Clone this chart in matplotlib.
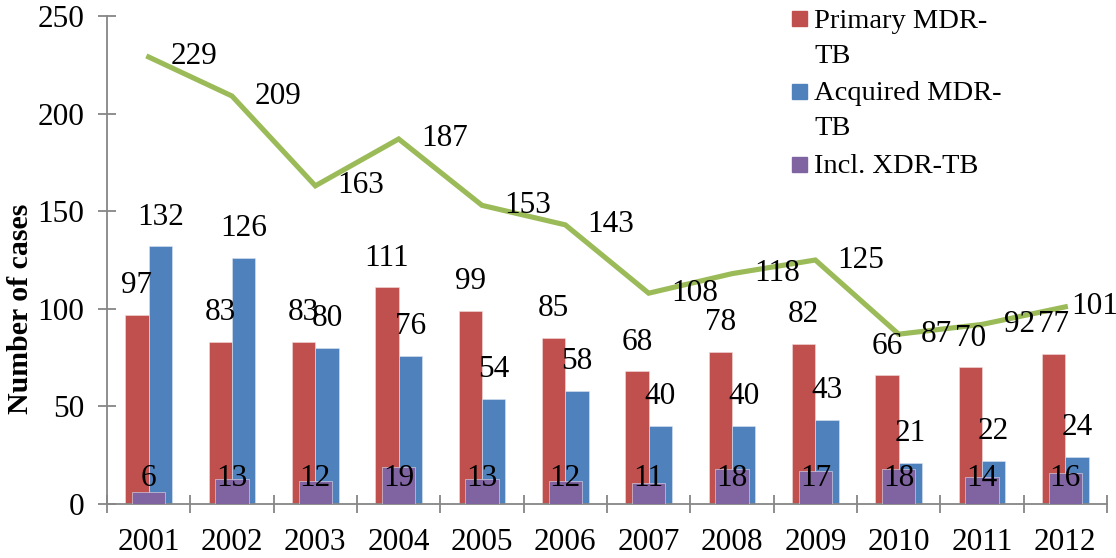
import matplotlib
matplotlib.use("Agg")
import matplotlib.pyplot as plt
from matplotlib.patches import Rectangle
from matplotlib.ticker import FixedLocator, NullFormatter
import numpy as np

plt.rcParams['font.family'] = ['Liberation Serif', 'DejaVu Serif']

years = ['2001', '2002', '2003', '2004', '2005', '2006', '2007', '2008', '2009', '2010', '2011', '2012']
primary = [97, 83, 83, 111, 99, 85, 68, 78, 82, 66, 70, 77]
acquired = [132, 126, 80, 76, 54, 58, 40, 40, 43, 21, 22, 24]
xdr = [6, 13, 12, 19, 13, 12, 11, 18, 17, 18, 14, 16]
total = [229, 209, 163, 187, 153, 143, 108, 118, 125, 87, 92, 101]

legend_labels = ['Primary MDR-\nTB', 'Acquired MDR-\nTB', 'Incl. XDR-TB']

RED = '#C0504D'
BLUE = '#4F81BD'
PURPLE = '#8064A2'
GREEN = '#9BBB59'
AXIS = '#868686'

W, H = 1116, 558
fig = plt.figure(figsize=(W / 100, H / 100), dpi=100)
ax = fig.add_axes([107 / W, 1 - 504 / H, 1000 / W, 488 / H])

x = np.arange(len(years))
bw = 0.28
ax.bar(x - bw / 2, primary, width=bw, color=RED, edgecolor='#F2DCDB', linewidth=0.4, zorder=2)
ax.bar(x + bw / 2, acquired, width=bw, color=BLUE, edgecolor='#DCE6F2', linewidth=0.4, zorder=2)
ax.bar(x, xdr, width=0.4, color=PURPLE, edgecolor='#E5E0EC', linewidth=0.4, zorder=3)
ax.plot(x, total, color=GREEN, linewidth=3.7, zorder=4, solid_joinstyle='miter')

fs = 22.5
n = len(years)
for i in range(n):
    ax.annotate(str(primary[i]), (x[i] - bw / 2, primary[i]), xytext=(0, 21),
                textcoords='offset points', ha='center', va='center', fontsize=fs, zorder=6)
    ax.annotate(str(acquired[i]), (x[i] + bw / 2, acquired[i]), xytext=(0, 21),
                textcoords='offset points', ha='center', va='center', fontsize=fs, zorder=6)
    ax.text(x[i], 13, str(xdr[i]), ha='center', va='center', fontsize=fs, zorder=6)
    dx = 16 if i < n - 1 else 4
    ax.annotate(str(total[i]), (x[i], total[i]), xytext=(dx, 0),
                textcoords='offset points', ha='left', va='center', fontsize=fs, zorder=6)

ax.set_xlim(-0.5, 11.5)
ax.set_ylim(0, 250)
ax.set_yticks(np.arange(0, 251, 50))
ax.xaxis.set_major_locator(FixedLocator(np.arange(-0.5, 12, 1)))
ax.xaxis.set_major_formatter(NullFormatter())
ax.xaxis.set_minor_locator(FixedLocator(x))
ax.set_xticklabels(years, minor=True)

for s in ['top', 'right']:
    ax.spines[s].set_visible(False)
for s in ['left', 'bottom']:
    ax.spines[s].set_color(AXIS)
    ax.spines[s].set_linewidth(1.3)

ax.tick_params(axis='y', direction='inout', length=13, width=1.3, color=AXIS,
               labelsize=fs, pad=10)
ax.tick_params(axis='x', which='major', direction='inout', length=13, width=1.3, color=AXIS)
ax.tick_params(axis='x', which='minor', length=0, labelsize=fs, pad=17)

fig.text(21 / W, 1 - 309 / H, 'Number of cases', rotation=90, ha='center', va='center',
         fontsize=21.5, fontweight='bold')

# legend
lfs = 20.5
colors = [RED, BLUE, PURPLE]
sq_centers = [18, 91, 164]
baselines = [[28, 63], [100, 135], [173]]
for c, yc, lab, bls in zip(colors, sq_centers, legend_labels, baselines):
    fig.add_artist(Rectangle((792 / W, 1 - (yc + 7.5) / H), 15 / W, 15 / H,
                             transform=fig.transFigure, color=c))
    for line, bl in zip(lab.split('\n'), bls):
        fig.text(814 / W, 1 - bl / H, line, ha='left', va='baseline', fontsize=lfs)

fig.savefig('out.png', dpi=100)
